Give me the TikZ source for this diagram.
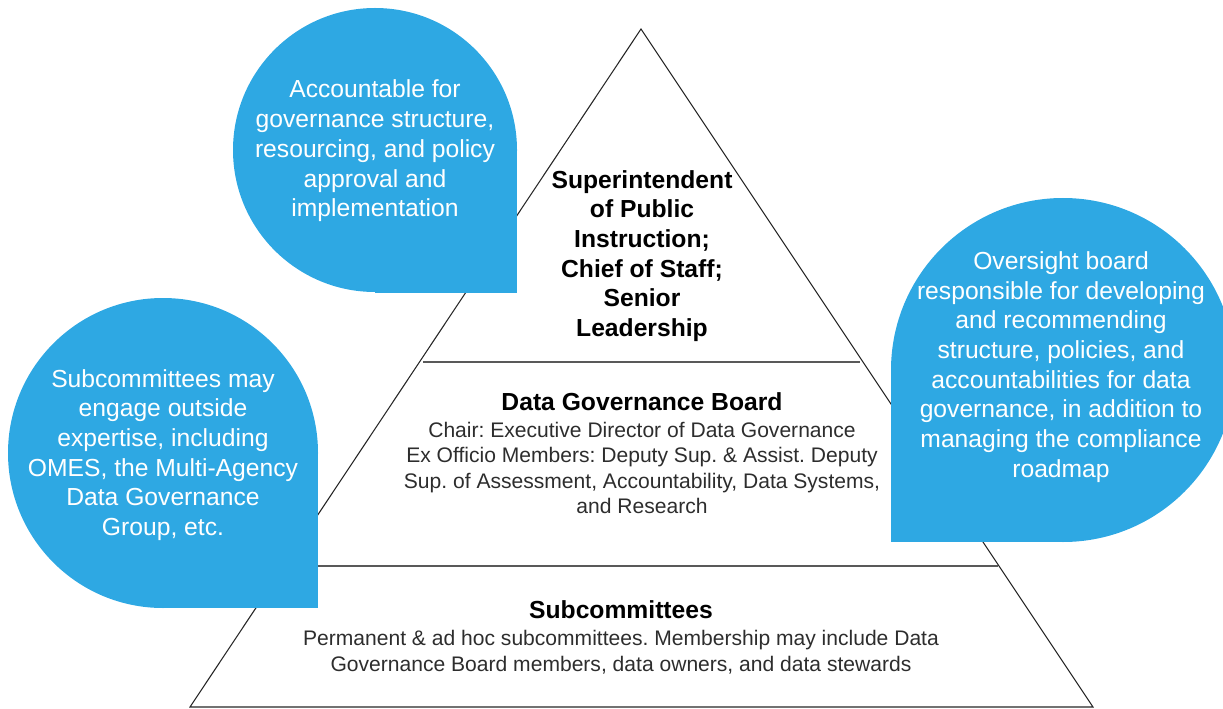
\documentclass[tikz,border=0pt]{standalone}
\usepackage{fontspec}
\setmainfont{Liberation Sans}
\frenchspacing
\definecolor{callout}{RGB}{46,168,227}
\definecolor{bodytext}{RGB}{45,45,45}
\begin{document}
\begin{tikzpicture}[x=0.75pt,y=-0.75pt,
  edge/.style={draw=black!85, line width=0.8pt},
  divider/.style={draw=black!65, line width=1.2pt},
  bubble/.style={fill=callout},
  bubbletext/.style={text=white, align=center, inner sep=0pt,
    font=\fontsize{18.5}{22.3}\selectfont},
  tiertitle/.style={align=center, inner sep=0pt,
    font=\bfseries\fontsize{18.5}{22.3}\selectfont},
  tierbody/.style={align=center, text=bodytext, inner sep=0pt,
    font=\fontsize{15.8}{19.1}\selectfont}]
\useasboundingbox (0,0) rectangle (1223,709);

% pyramid outline and tier dividers
\coordinate (apex) at (641,29);
\coordinate (bl) at (190,707);
\coordinate (br) at (1093,707);
\draw[edge] (apex) -- (bl) -- (br) -- cycle;
\coordinate (d1l) at (423,362);
\coordinate (d1r) at (860,362);
\coordinate (d2l) at (290,566);
\coordinate (d2r) at (998,566);
\draw[divider] (d1l) -- (d1r);
\draw[divider] (d2l) -- (d2r);

% callout bubbles: a disc plus one square corner
\fill[bubble] (375,150) circle[radius=142];
\fill[bubble] (375,150) rectangle (517,293);
\fill[bubble] (163,453) circle[radius=155];
\fill[bubble] (163,453) rectangle (318,608);
\fill[bubble] (1063,370) circle[radius=172];
\fill[bubble] (891,370) rectangle (1063,542);

% callout texts
\node[bubbletext] (note1) at (375,151) {Accountable for\\governance structure,\\resourcing, and policy\\approval and\\implementation};
\node[bubbletext] (note2) at (163,455) {Subcommittees may\\engage outside\\expertise, including\\OMES, the Multi-Agency\\Data Governance\\Group, etc.};
\node[bubbletext] (note3) at (1061,367) {Oversight board\\responsible for developing\\and recommending\\structure, policies, and\\accountabilities for data\\governance, in addition to\\managing the compliance\\roadmap};

% tier texts
\node[tiertitle] (lead) at (642,256) {Superintendent\\of Public\\Instruction;\\Chief of Staff;\\Senior\\Leadership};
\node[tiertitle] (boardT) at (642,402) {Data Governance Board};
\node[tierbody] (boardB) at (642,468) {Chair: Executive Director of Data Governance\\Ex Officio Members: Deputy Sup. \& Assist. Deputy\\Sup. of Assessment, Accountability, Data Systems,\\and Research};
\node[tiertitle] (subT) at (621,610) {Subcommittees};
\node[tierbody] (subB) at (621,652) {Permanent \& ad hoc subcommittees. Membership may include Data\\Governance Board members, data owners, and data stewards};
\end{tikzpicture}
\end{document}
